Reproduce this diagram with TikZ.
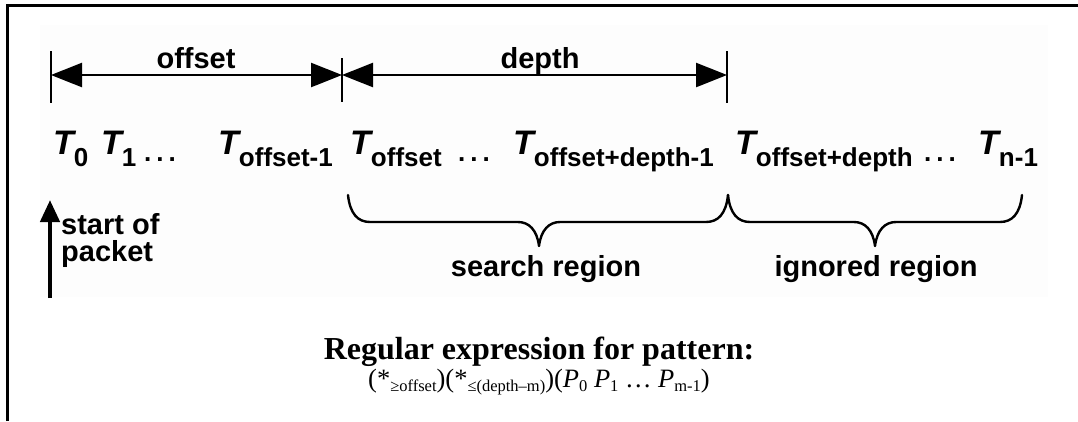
\documentclass[tikz,border=0pt]{standalone}
\usepackage{fontspec}
\setmainfont{Liberation Sans}
\newfontfamily\rmserif{Liberation Serif}
\usetikzlibrary{arrows.meta}
\newcommand\Tsub[1]{{\fontsize{34}{34}\selectfont\bfseries\itshape T}\raisebox{-12pt}{\fontsize{26}{26}\selectfont\bfseries #1}}
\newcommand\rsub[1]{\raisebox{-4pt}{\fontsize{16.5}{16.5}\selectfont #1}}
\newcommand\threedots{.\hspace{5pt}.\hspace{5pt}.}
\begin{document}
\begin{tikzpicture}[x=1pt,y=1pt,
  lbl/.style={inner sep=0, anchor=base, font=\bfseries\fontsize{29}{29}\selectfont},
  tok/.style={inner sep=0, anchor=base west},
  dots/.style={inner sep=0, anchor=base west, font=\bfseries\fontsize{26}{26}\selectfont},
  dim/.style={line width=2.5pt, {Triangle[length=31pt,width=24pt]}-{Triangle[length=31pt,width=24pt]}},
  tickline/.style={line width=2pt},
  bracepath/.style={line width=2.4pt, line join=round, line cap=round},
  frame/.style={line width=2.5pt}]
\useasboundingbox (0,0) rectangle (1078,-421);
\fill[white] (0,0) rectangle (1078,-421);
\fill[black!0.8] (40,-25) rectangle (1048,-297);
\draw[frame] (7.5,-421) -- (7.5,-5.5) -- (1078,-5.5);
% ticks and dimension arrows
\coordinate (k1t) at (51,-51);  \coordinate (k1b) at (51,-103);
\coordinate (k2t) at (342,-58); \coordinate (k2b) at (342,-102);
\coordinate (k3t) at (727,-51); \coordinate (k3b) at (727,-103);
\coordinate (a1) at (51,-75); \coordinate (a2) at (342,-75); \coordinate (a3) at (727,-75);
\draw[tickline] (k1t) -- (k1b);
\draw[tickline] (k2t) -- (k2b);
\draw[tickline] (k3t) -- (k3b);
\draw[dim] (a1) -- (a2);
\draw[dim] (a2) -- (a3);
\node[lbl] (loff) at (196,-68) {offset};
\node[lbl] (ldep) at (540,-68) {depth};
% tokens
\node[tok] (t0) at (53,-154) {\Tsub{0}};
\node[tok] (t1) at (101,-154) {\Tsub{1}};
\node[dots] (d1) at (144,-161) {\threedots};
\node[tok] (t2) at (218,-154) {\Tsub{offset-1}};
\node[tok] (t3) at (350,-154) {\Tsub{offset}};
\node[dots] (d2) at (458,-161) {\threedots};
\node[tok] (t4) at (513,-154) {\Tsub{offset+depth-1}};
\node[tok] (t5) at (735,-154) {\Tsub{offset+depth}};
\node[dots] (d3) at (924,-161) {\threedots};
\node[tok] (t6) at (978,-154) {\Tsub{n-1}};
% braces
\draw[bracepath] (348,-195) .. controls (350,-214) and (358,-222) .. (370,-222)
  -- (518,-222) .. controls (529,-222) and (537,-230) .. (539,-246)
  .. controls (541,-230) and (549,-222) .. (560,-222)
  -- (706,-222) .. controls (718,-222) and (726,-214) .. (728,-195);
\draw[bracepath] (728,-195) .. controls (730,-214) and (738,-222) .. (750,-222)
  -- (854,-222) .. controls (865,-222) and (873,-230) .. (875,-246)
  .. controls (877,-230) and (885,-222) .. (896,-222)
  -- (1000,-222) .. controls (1012,-222) and (1020,-214) .. (1022,-195);
\node[lbl] (lsr) at (546,-276) {search region};
\node[lbl] (lir) at (876,-276) {ignored region};
% start of packet
\coordinate (s0) at (50,-298); \coordinate (s1) at (50,-200);
\draw[line width=4.5pt,-{Triangle[length=22pt,width=19pt]}] (s0) -- (s1);
\node[lbl, anchor=base west] (sp1) at (61,-234) {start of};
\node[lbl, anchor=base west] (sp2) at (61,-261) {packet};
% bottom text
\node[inner sep=0, anchor=base] (re) at (539,-359) {\rmserif\bfseries\fontsize{32}{32}\selectfont Regular expression for pattern:};
\node[inner sep=0, anchor=base] (rx) at (539,-387) {\rmserif\fontsize{26.5}{26.5}\selectfont (*\rsub{≥offset})(*\rsub{≤(depth–m)})(\textit{P}\rsub{0} \textit{P}\rsub{1} … \textit{P}\rsub{m-1})};
\end{tikzpicture}
\end{document}
